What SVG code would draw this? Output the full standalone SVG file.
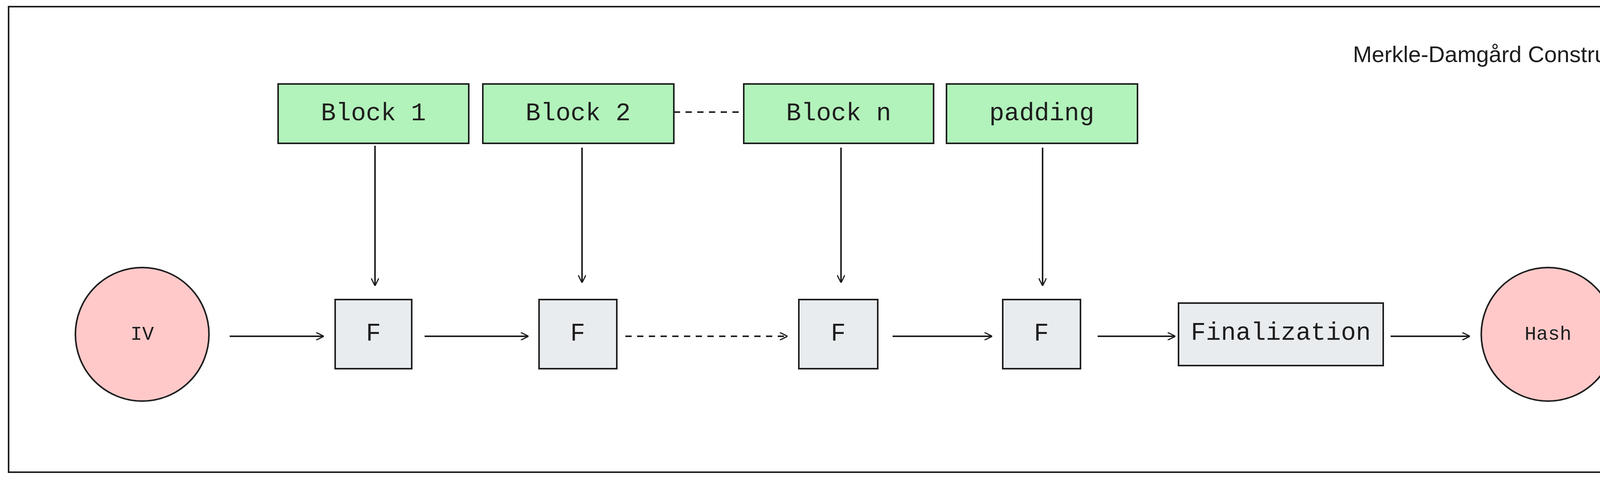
<svg xmlns="http://www.w3.org/2000/svg" width="4326" height="1229" viewBox="0 0 4326 1229">
<defs>
<style>
.blk{fill:#b2f2bb;stroke:#1e1e1e;stroke-width:4}
.fb{fill:#e9ecef;stroke:#1e1e1e;stroke-width:4}
.circ{fill:#ffc9c9;stroke:#1e1e1e;stroke-width:4}
.t{font-family:"Liberation Mono",monospace;font-size:64px;fill:#1e1e1e;text-anchor:middle;dominant-baseline:central}
.ts{font-family:"Liberation Mono",monospace;font-size:50px;fill:#1e1e1e;text-anchor:middle;dominant-baseline:central}
.c{stroke:#1e1e1e;stroke-width:4;fill:none}
.d{stroke-dasharray:16 14}
</style>
<marker id="ah" viewBox="0 0 20 20" refX="19" refY="10" markerWidth="20" markerHeight="20" markerUnits="userSpaceOnUse" orient="auto"><path d="M0 0 L20 10 L0 20" fill="none" stroke="#1e1e1e" stroke-width="3"/></marker>
</defs>
<rect x="22" y="17" width="4283" height="1192" fill="#ffffff" stroke="#1e1e1e" stroke-width="4"/>
<text x="4237" y="138" style="font-family:'Liberation Sans',sans-serif;font-size:58px;fill:#1e1e1e;text-anchor:end;dominant-baseline:central">Merkle-Damgård Construction</text>
<g id="block1"><rect class="blk" x="712" y="215" width="488" height="152"/><text class="t" x="956" y="291">Block 1</text></g>
<g id="block2"><rect class="blk" x="1236" y="215" width="489" height="152"/><text class="t" x="1480" y="291">Block 2</text></g>
<g id="blockn"><rect class="blk" x="1904" y="215" width="486" height="152"/><text class="t" x="2147" y="291">Block n</text></g>
<g id="padding"><rect class="blk" x="2423" y="215" width="489" height="152"/><text class="t" x="2667" y="291">padding</text></g>
<g id="f1"><rect class="fb" x="858" y="767" width="196" height="177"/><text class="t" x="956" y="855">F</text></g>
<g id="f2"><rect class="fb" x="1380" y="767" width="199" height="177"/><text class="t" x="1479" y="855">F</text></g>
<g id="f3"><rect class="fb" x="2045" y="767" width="202" height="177"/><text class="t" x="2146" y="855">F</text></g>
<g id="f4"><rect class="fb" x="2567" y="767" width="199" height="177"/><text class="t" x="2666" y="855">F</text></g>
<g id="fin"><rect class="fb" x="3017" y="776" width="524" height="160"/><text class="t" x="3279" y="853">Finalization</text></g>
<g id="iv"><circle class="circ" cx="364" cy="856" r="171"/><text class="ts" x="364" y="856">IV</text></g>
<g id="hash"><circle class="circ" cx="3963" cy="856" r="171"/><text class="ts" x="3963" y="856">Hash</text></g>
<g id="connectors">
<line class="c d" x1="1725" y1="287" x2="1904" y2="287"/>
<line class="c" x1="588" y1="861" x2="828" y2="861" marker-end="url(#ah)"/>
<line class="c" x1="1087" y1="861" x2="1352" y2="861" marker-end="url(#ah)"/>
<line class="c d" x1="1601" y1="861" x2="2015" y2="861" marker-end="url(#ah)"/>
<line class="c" x1="2285" y1="861" x2="2539" y2="861" marker-end="url(#ah)"/>
<line class="c" x1="2810" y1="861" x2="3008" y2="861" marker-end="url(#ah)"/>
<line class="c" x1="3560" y1="861" x2="3762" y2="861" marker-end="url(#ah)"/>
<line class="c" x1="960" y1="373" x2="960" y2="731" marker-end="url(#ah)"/>
<line class="c" x1="1490" y1="378" x2="1490" y2="723" marker-end="url(#ah)"/>
<line class="c" x1="2153" y1="378" x2="2153" y2="723" marker-end="url(#ah)"/>
<line class="c" x1="2669" y1="378" x2="2669" y2="731" marker-end="url(#ah)"/>
</g>
</svg>
